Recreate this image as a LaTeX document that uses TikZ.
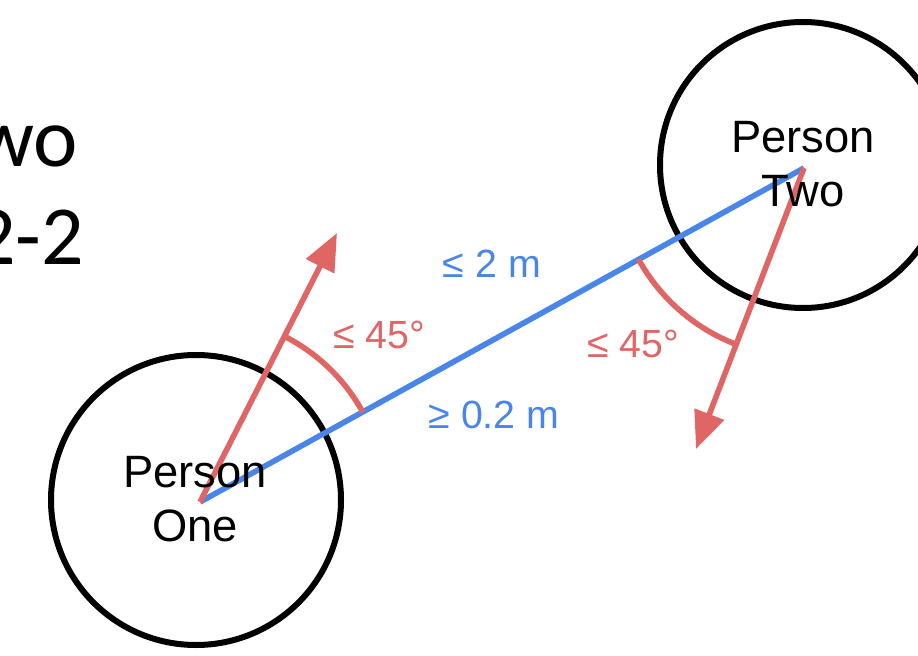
\documentclass[tikz,border=0pt]{standalone}
\usepackage{fontspec}
\setmainfont{Liberation Sans}
\newfontfamily\calfont{Carlito}
\usetikzlibrary{arrows.meta}
\definecolor{redc}{HTML}{E06666}
\definecolor{bluec}{HTML}{4A86E8}
\begin{document}
\begin{tikzpicture}[x=0.75pt,y=-0.75pt,
  person/.style={circle, draw=black, line width=4.5pt, minimum size=217.5pt, inner sep=0pt},
  ptext/.style={font=\fontsize{34}{41}\selectfont, align=center, inner sep=0pt},
  dirarrow/.style={draw=redc, line width=4.2pt, -{Triangle[length=28pt,width=23pt]}},
  anglearc/.style={draw=redc, line width=4.2pt},
  dist/.style={draw=bluec, line width=4.2pt},
  lbl/.style={font=\fontsize{29.5}{35}\selectfont, inner sep=0pt, anchor=base},
  big/.style={font=\calfont\fontsize{63}{70}\selectfont, inner sep=0pt, anchor=base west}]
\useasboundingbox (0,0) rectangle (918,656);
\clip (0,0) rectangle (918,656);
\fill[white] (0,0) rectangle (918,656);
\node[person] (c1) at (196,500) {};
\node[person, minimum size=214.5pt] (c2) at (803,165) {};
\coordinate (o1) at (200,502);
\coordinate (o2) at (804,168);
\coordinate (h1) at (337,233);
\coordinate (h2) at (696,449);
\draw[dist] (o1) -- (o2);
\draw[dirarrow] (o1) -- (h1);
\draw[dirarrow] (o2) -- (h2);
\draw[anglearc] (o1) ++(-28.9:186) arc[start angle=-28.9, end angle=-63.0, radius=186];
\draw[anglearc] (o2) ++(151.1:189) arc[start angle=151.1, end angle=111.0, radius=189];
\node[lbl, text=bluec] (d1) at (492,277) {≤ 2 m};
\node[lbl, text=bluec] (d2) at (494,428) {≥ 0.2 m};
\node[lbl, text=redc] (a1) at (379,348) {≤ 45°};
\node[lbl, text=redc] (a2) at (633,357) {≤ 45°};
\node[ptext] (t1) at (195,499) {Person\\One};
\node[ptext] (t2) at (803,164) {Person\\Two};
\node[big] (w1) at (-26,167) {wo};
\node[big] (w2) at (-27,264) {2-2};
\end{tikzpicture}
\end{document}
